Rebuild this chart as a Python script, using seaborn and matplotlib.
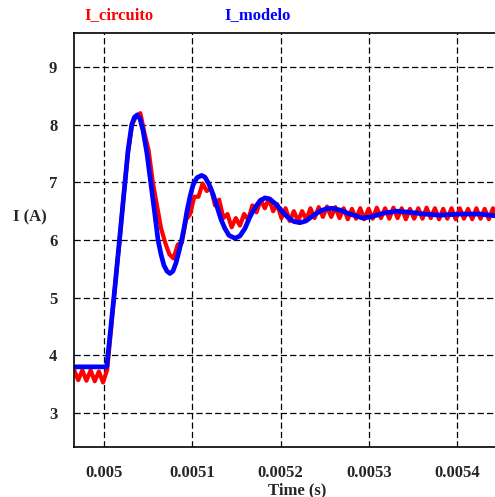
import numpy as np
import pandas as pd
import matplotlib
matplotlib.use("Agg")
import matplotlib.pyplot as plt
import seaborn as sns

sns.set_style("white")
plt.rcParams["font.family"] = ["Liberation Serif", "DejaVu Serif"]
plt.rcParams["font.weight"] = "bold"

# ================= DATA =================

# I_modelo (smooth model response), time in microseconds after 0.005 s
t_modelo_us = [-34.0, 3.1, 12.5, 23.8, 27.2, 31.4, 34.5, 37.7, 40.8, 44.2,
               48.7, 52.9, 57.2, 61.2, 64.6, 67.9, 71.3, 74.7, 78.1, 81.5,
               84.9, 88.0, 91.2, 94.0, 97.4, 100.8, 105.3, 110.6, 114.4, 118.9,
               123.4, 128.0, 132.5, 137.0, 141.6, 148.4, 154.0, 159.7, 165.3, 171.0,
               176.7, 182.3, 188.0, 194.8, 201.6, 208.4, 215.2, 222.0, 228.8, 236.7,
               244.6, 251.4, 258.2, 267.3, 278.6, 293.3, 304.6, 318.2, 331.8, 346.5,
               363.5, 380.5, 403.2, 425.8, 442.8]
i_modelo = [3.8, 3.8, 5.2, 7.0, 7.55, 8.0, 8.13, 8.17, 8.1, 7.9,
            7.5, 7.0, 6.5, 6.0, 5.75, 5.56, 5.46, 5.42, 5.46, 5.6,
            5.8, 6.0, 6.25, 6.5, 6.75, 6.95, 7.08, 7.12, 7.09, 6.97,
            6.8, 6.58, 6.36, 6.2, 6.08, 6.03, 6.07, 6.2, 6.4, 6.56,
            6.68, 6.73, 6.71, 6.62, 6.5, 6.39, 6.32, 6.3, 6.33, 6.42,
            6.5, 6.54, 6.55, 6.52, 6.45, 6.38, 6.41, 6.47, 6.5, 6.48,
            6.45, 6.43, 6.45, 6.45, 6.42]

# I_circuito (simulated circuit current with switching ripple)
# sampled every 4.7 us starting at 0.004966 s
t_circuito_start = 0.004966
t_circuito_step = 4.7e-6
i_circuito = [3.75, 3.57, 3.74, 3.56, 3.74, 3.55, 3.72, 3.53,
              3.75, 4.5, 5.3, 6.0, 6.8, 7.5, 8.0, 8.15,
              8.2, 7.85, 7.55, 7.0, 6.6, 6.2, 5.95, 5.75,
              5.68, 5.92, 5.95, 6.35, 6.45, 6.75, 6.75, 6.98,
              6.85, 6.9, 6.6, 6.7, 6.38, 6.45, 6.22, 6.38,
              6.25, 6.45, 6.35, 6.6, 6.48, 6.7, 6.55, 6.72,
              6.5, 6.62, 6.38, 6.55, 6.33, 6.5, 6.33, 6.5,
              6.35, 6.55, 6.38, 6.57, 6.4, 6.58, 6.4, 6.57,
              6.38, 6.55, 6.36, 6.54, 6.37, 6.55, 6.36, 6.54,
              6.37, 6.56, 6.38, 6.55, 6.37, 6.56, 6.38, 6.55,
              6.36, 6.54, 6.37, 6.55, 6.37, 6.56, 6.38, 6.55,
              6.36, 6.54, 6.37, 6.55, 6.36, 6.55, 6.37, 6.54,
              6.36, 6.55, 6.37, 6.54, 6.36, 6.55, 6.37]

x_ticks = [0.005, 0.0051, 0.0052, 0.0053, 0.0054]
x_tick_labels = ["0.005", "0.0051", "0.0052", "0.0053", "0.0054"]
y_ticks = [3, 4, 5, 6, 7, 8, 9]

t_circuito = t_circuito_start + t_circuito_step * np.arange(len(i_circuito))
t_modelo = 0.005 + np.array(t_modelo_us) * 1e-6

df_circ = pd.DataFrame({"t": t_circuito, "i": i_circuito})
df_mod = pd.DataFrame({"t": t_modelo, "i": i_modelo})

# ================= PLOT =================

fig = plt.figure(figsize=(4.95, 4.97), dpi=100)
ax = fig.add_axes([74 / 495, 1 - 447 / 497, 421 / 495, 414 / 497])

sns.lineplot(data=df_circ, x="t", y="i", ax=ax, color="#ff0000",
             linewidth=3.0, estimator=None, sort=False)
sns.lineplot(data=df_mod, x="t", y="i", ax=ax, color="#0000ff",
             linewidth=3.4, estimator=None, sort=False)

ax.set_xlim(0.004966, 0.005443)
ax.set_ylim(2.41, 9.59)

ax.set_xticks(x_ticks)
ax.set_xticklabels(x_tick_labels)
ax.set_yticks(y_ticks)
ax.tick_params(axis="both", length=0, labelsize=12)
ax.tick_params(axis="x", pad=13)
ax.tick_params(axis="y", pad=12)
for lbl in ax.get_xticklabels() + ax.get_yticklabels():
    lbl.set_fontweight("bold")

ax.grid(True, color="black", linewidth=0.9, linestyle=(0, (5, 2.5)))

for s in ["left", "bottom", "top"]:
    ax.spines[s].set_color("black")
    ax.spines[s].set_linewidth(1.2)
ax.spines["right"].set_visible(False)

ax.set_xlabel("")
ax.set_ylabel("")
fig.text(297 / 495, 1 - 490 / 497, "Time (s)", ha="center", va="center",
         fontsize=12, fontweight="bold")
fig.text(30 / 495, 1 - 217 / 497, "I (A)", ha="center", va="center",
         fontsize=12, fontweight="bold")

fig.text(119 / 495, 1 - 15 / 497, "I_circuito", ha="center", va="center",
         fontsize=12, fontweight="bold", color="#ff0000")
fig.text(258 / 495, 1 - 15 / 497, "I_modelo", ha="center", va="center",
         fontsize=12, fontweight="bold", color="#0000ff")

fig.savefig("out.png", dpi=100)
